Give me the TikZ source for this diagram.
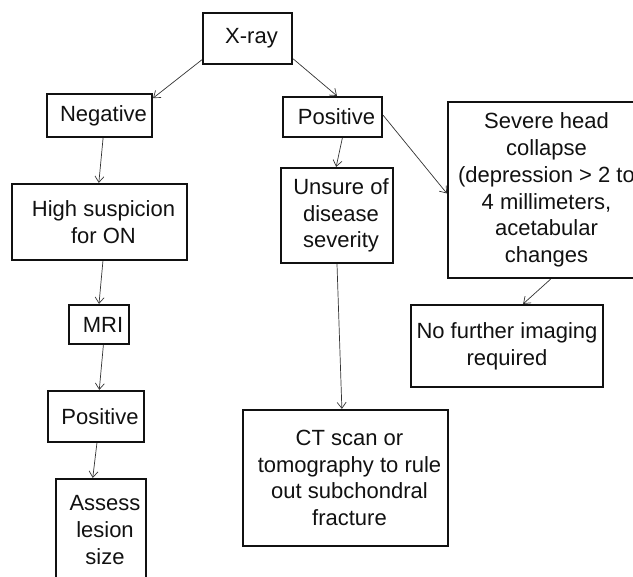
\documentclass[tikz,border=0pt]{standalone}
\usepackage{fontspec}
\setmainfont{Liberation Sans}
\usetikzlibrary{arrows.meta}
\definecolor{InkBlack}{HTML}{111111}
\definecolor{LineDark}{HTML}{333333}

\begin{document}
\begin{tikzpicture}[
    x=1pt, y=-1pt,
    box/.style={draw=InkBlack, line width=2.2pt, inner sep=0pt},
    txt/.style={align=center, inner sep=0pt, xshift=4pt, text=InkBlack, font=\fontsize{22}{26.7}\selectfont},
    arrow/.style={-{Straight Barb[length=6pt,width=9pt]}, line width=0.7pt, draw=LineDark}
]
\clip (0,0) rectangle (633,577);
\node[box, minimum width=89, minimum height=51, label={[txt]center:X-ray}] (xray) at (247.5,38.5) {};
\node[box, minimum width=105, minimum height=43, label={[txt]center:Negative}] (neg) at (99.5,115.5) {};
\node[box, minimum width=175, minimum height=76, label={[txt]center:{High suspicion\\for ON}}] (high) at (99.5,222) {};
\node[box, minimum width=60, minimum height=39, label={[txt]center:MRI}] (mri) at (99,324.5) {};
\node[box, minimum width=96, minimum height=51, label={[txt]center:Positive}] (lpos) at (96,416.5) {};
\node[box, minimum width=90, minimum height=102, label={[txt]center:{Assess\\lesion\\size}}] (assess) at (101,530) {};
\node[box, minimum width=99, minimum height=40, label={[txt]center:Positive}] (rpos) at (332.5,117) {};
\node[box, minimum width=112, minimum height=95, label={[txt]center:{Unsure of\\disease\\severity}}] (unsure) at (337,215.5) {};
\node[box, minimum width=205, minimum height=136, label={[txt]center:{CT scan or\\tomography to rule\\out subchondral\\fracture}}] (ct) at (345.5,478) {};
\node[box, minimum width=196, minimum height=176, label={[txt,xshift=-3.5pt]center:{Severe head\\collapse\\(depression > 2 to\\4 millimeters,\\acetabular\\changes}}] (severe) at (546,190) {};
\node[box, minimum width=192, minimum height=82, label={[txt,xshift=-4pt]center:{No further imaging\\required}}] (nofur) at (507,346) {};

\draw[arrow] (xray.205) -- (neg.18);
\draw[arrow] (xray.-24) -- (rpos.78);
\draw[arrow] (neg.-81) -- (high.91);
\draw[arrow] (high.-85) -- (mri.north);
\draw[arrow] (mri.-78) -- (lpos.83);
\draw[arrow] (lpos.-88) -- (assess.99);
\draw[arrow] (rpos.-65) -- (unsure.91);
\draw[arrow] (rpos.2) -- (severe.182);
\draw[arrow] (unsure.south) -- (ct.93);
\draw[arrow] (severe.-87) -- (nofur.69);
\end{tikzpicture}
\end{document}
